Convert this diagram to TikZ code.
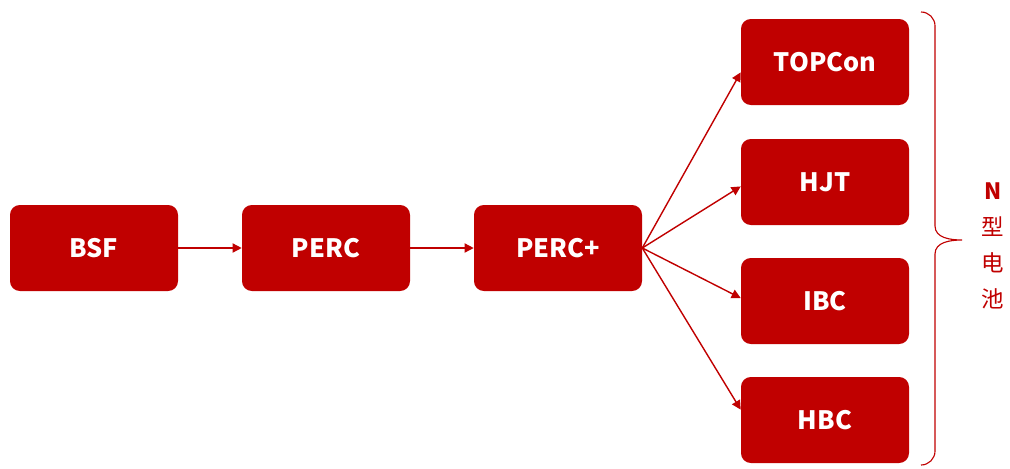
\documentclass[tikz,border=0pt]{standalone}
\usepackage{fontspec}
\setmainfont{Noto Sans CJK SC}
\usetikzlibrary{arrows.meta, positioning}
\definecolor{cellred}{HTML}{C00000}

\begin{document}
\begin{tikzpicture}[x=0.025cm, y=-0.025cm, >={Triangle[length=6.5pt,width=6.5pt]},
  cell/.style={rectangle, rounded corners=7pt, fill=cellred, draw=none, text=white,
    minimum width=168*0.025cm, minimum height=86*0.025cm, font=\fontsize{18}{18}\selectfont\bfseries},
  link/.style={->, draw=cellred, line width=1pt}]
\useasboundingbox (0,0) rectangle (1010,468);
% process line
\node[cell] (bsf) at (94,248) {BSF};
\node[cell] (perc) at (326,248) {PERC};
\node[cell] (percp) at (558,248) {PERC+};
% n-type cells
\node[cell] (topcon) at (825,62) {TOPCon};
\node[cell] (hjt) at (825,182) {HJT};
\node[cell] (ibc) at (825,301) {IBC};
\node[cell] (hbc) at (825,420) {HBC};
\draw[link] (bsf) -- (perc);
\draw[link] (perc) -- (percp);
\draw[link] (percp.east) -- (topcon.187);
\draw[link] (percp.east) -- (hjt.183);
\draw[link] (percp.east) -- (ibc.178);
\draw[link] (percp.east) -- (hbc.173);
% brace
\draw[cellred, line width=0.8pt] (921,12) to[out=0,in=90] (935,26) -- (935,226)
  to[out=-90,in=180] (962,240) to[out=180,in=90] (935,254) -- (935,451)
  to[out=-90,in=0] (921,465);
\node[text=cellred, align=center, font=\fontsize{16}{25.5}\selectfont] (ntype) at (993,246)
  {\textbf{N}\\型\\电\\池};
\end{tikzpicture}
\end{document}
